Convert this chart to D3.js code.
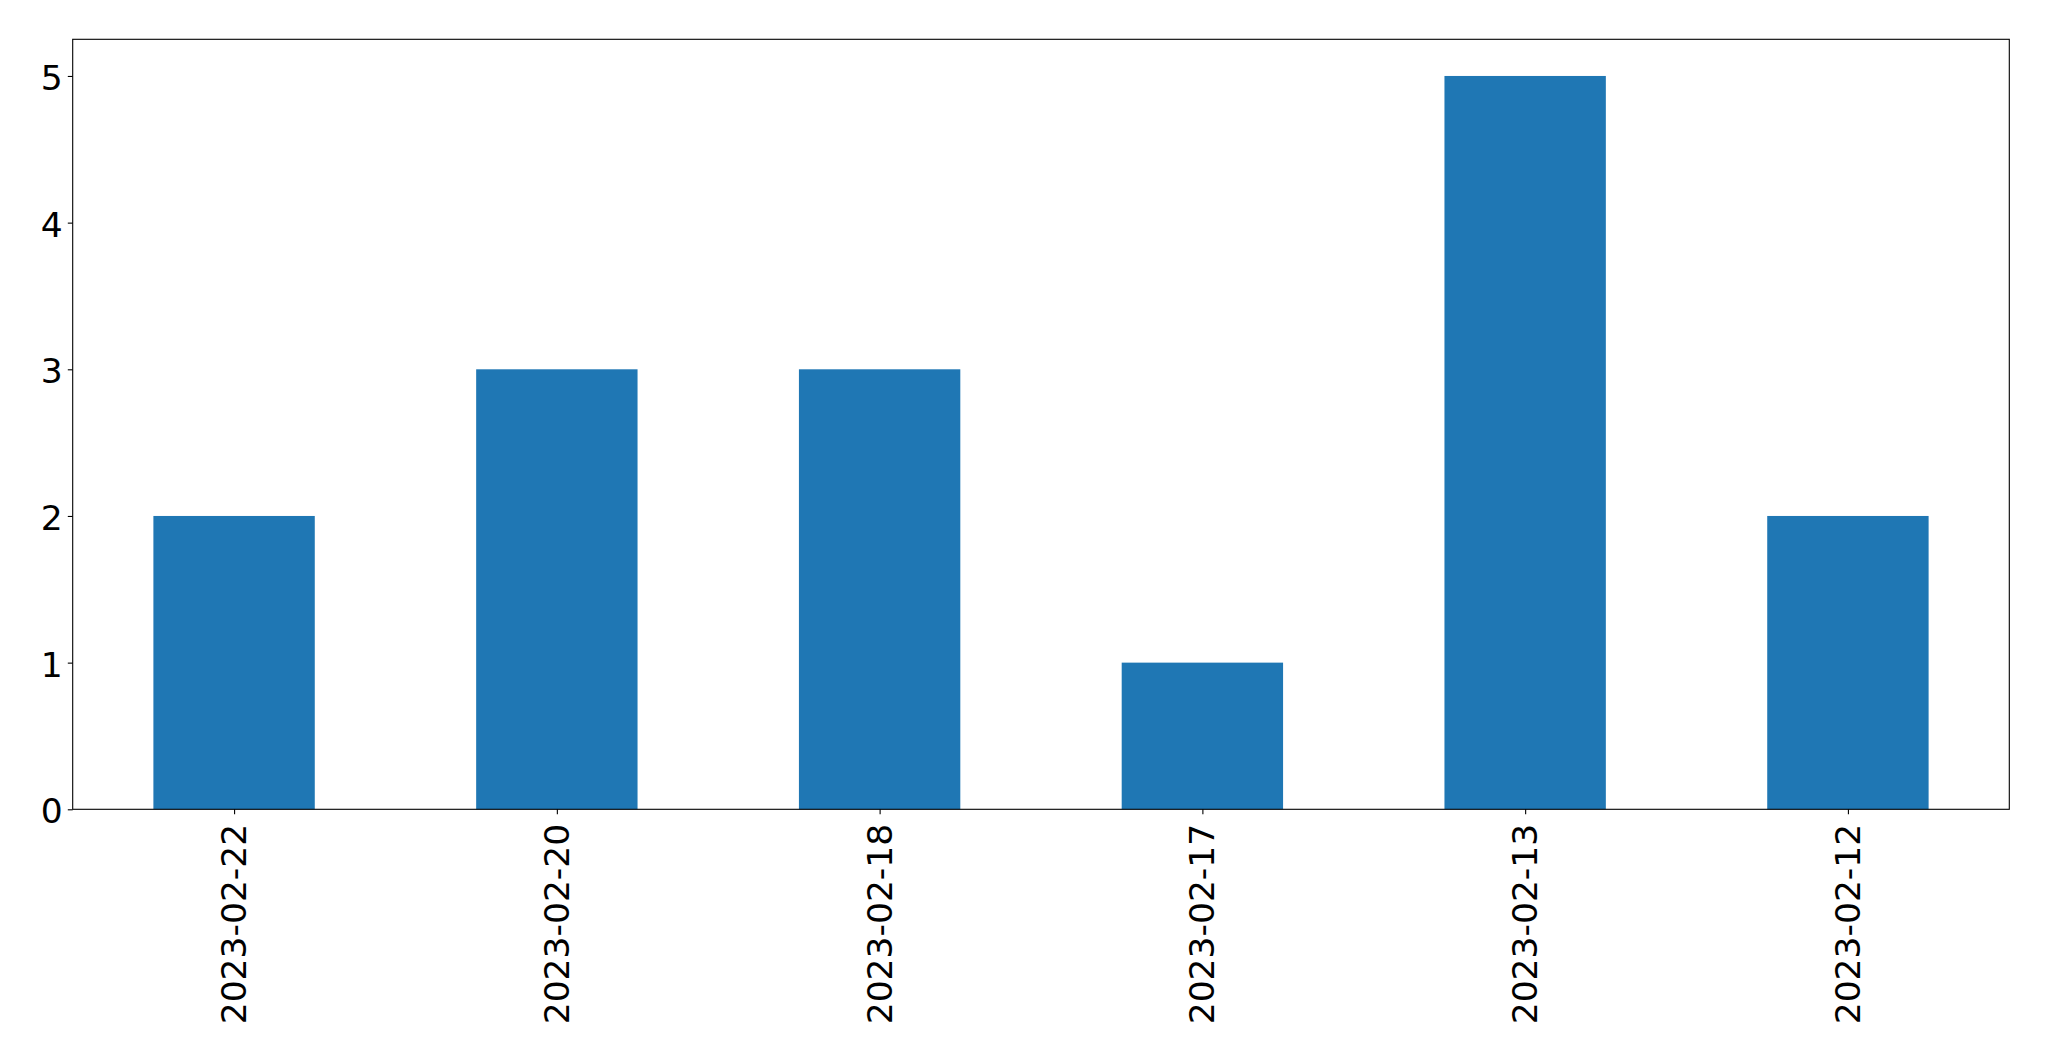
<!DOCTYPE html>
<html><head><meta charset="utf-8">
<script src="https://cdn.jsdelivr.net/npm/d3@7"></script>
<style>body{margin:0;background:#fff}svg{display:block}text{font-family:"DejaVu Sans",sans-serif}</style>
</head><body>
<script>
const categories = ["2023-02-22","2023-02-20","2023-02-18","2023-02-17","2023-02-13","2023-02-12"];
const values = [2,3,3,1,5,2];
const yTicks = [0,1,2,3,4,5];

const W = 2049, H = 1061;
const m = {left:72.7, right:2009.3, top:39.3, bottom:809.3};
const svg = d3.select("body").append("svg").attr("width",W).attr("height",H);

const x = d3.scaleLinear().domain([-0.5, categories.length-0.5]).range([m.left, m.right]);
const y = d3.scaleLinear().domain([0, 5.25]).range([m.bottom, m.top]);

svg.append("g").selectAll("rect").data(values).join("rect")
  .attr("x",(d,i)=>x(i-0.25)).attr("width",(d,i)=>x(i+0.25)-x(i-0.25))
  .attr("y",d=>y(d)).attr("height",d=>y(0)-y(d)).attr("fill","#1f77b4");

const fs = 34.5;
const yAxis = svg.append("g").attr("transform",`translate(${m.left},0)`)
  .call(d3.axisLeft(y).tickValues(yTicks).tickFormat(d3.format("d")).tickSize(4.9).tickPadding(5.0));
yAxis.select(".domain").remove();
yAxis.selectAll("line").attr("stroke","#000").attr("stroke-width",1.1);
yAxis.selectAll("text").attr("font-size",fs).attr("fill","#000").attr("font-family","DejaVu Sans")
  .attr("dy","0.39em");

const xAxis = svg.append("g").attr("transform",`translate(0,${m.bottom})`)
  .call(d3.axisBottom(x).tickValues(d3.range(categories.length)).tickFormat(i=>categories[i]).tickSize(4.9));
xAxis.select(".domain").remove();
xAxis.selectAll("line").attr("stroke","#000").attr("stroke-width",1.1);
xAxis.selectAll("text").attr("font-size",fs).attr("fill","#000").attr("font-family","DejaVu Sans")
  .attr("text-anchor","end").attr("dy","0.33em").attr("y",0)
  .attr("transform","translate(0,14.5) rotate(-90)");

svg.append("rect").attr("x",m.left).attr("y",m.top).attr("width",m.right-m.left).attr("height",m.bottom-m.top)
  .attr("fill","none").attr("stroke","#000").attr("stroke-width",1.1);
</script>
</body></html>
